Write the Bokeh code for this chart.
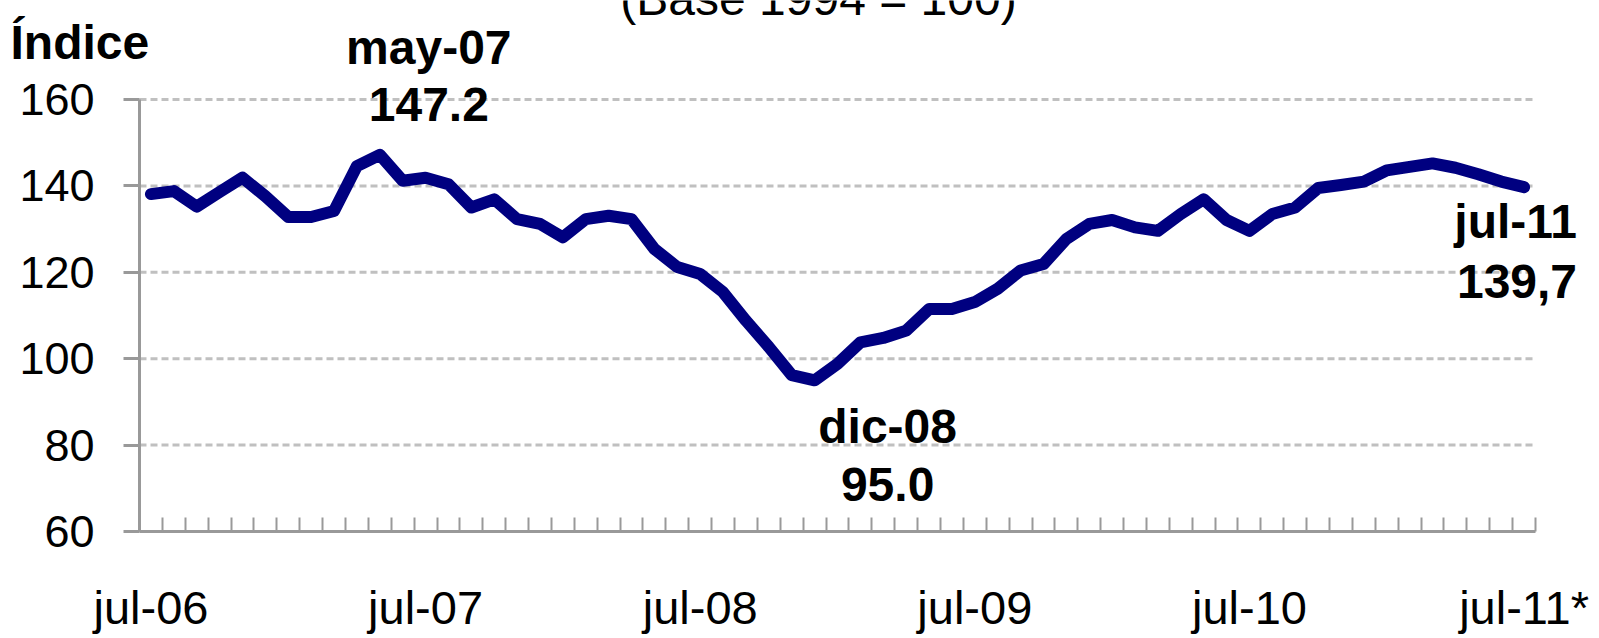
from bokeh.plotting import figure
from bokeh.models import Range1d, FixedTicker, Label
from bokeh.embed import file_html
from bokeh.resources import INLINE

# ---- data ----
month_abbr = ["ene", "feb", "mar", "abr", "may", "jun", "jul", "ago", "sep", "oct", "nov", "dic"]
months = [f"{month_abbr[(6 + i) % 12]}-{6 + (6 + i) // 12:02d}" for i in range(61)]  # jul-06 .. jul-11

values = [138.1, 138.8, 135.2, 138.6, 141.9, 137.6, 132.8, 132.8, 134.2, 144.6,
          147.2, 141.2, 141.9, 140.4, 135.0, 136.9, 132.3, 131.2, 128.1, 132.3,
          133.1, 132.3, 125.4, 121.2, 119.6, 115.4, 108.8, 102.7, 96.2, 95.0,
          98.8, 103.8, 104.8, 106.5, 111.5, 111.5, 113.1, 116.2, 120.4, 121.9,
          127.7, 131.2, 132.1, 130.4, 129.6, 133.5, 136.9, 132.1, 129.6, 133.5,
          135.0, 139.5, 140.2, 141.0, 143.6, 144.4, 145.2, 144.2, 142.7, 141.0, 139.7]

x_tick_labels = ["jul-06", "jul-07", "jul-08", "jul-09", "jul-10", "jul-11*"]
y_ticks = [60, 80, 100, 120, 140, 160]

annot_months = ["may-07", "dic-08", "jul-11"]
annot_texts = ["147.2", "95.0", "139,7"]

title_text = "(Base 1994 = 100)"
y_title = "Índice"

# ---- layout constants (pixels) ----
FONT = "Liberation Sans"
W, H = 1599, 638
AX_X = 139                        # y axis position
AX_Y = 531                        # x axis position
X0, X1 = -0.5, len(months) - 0.5  # category extent
Y0, Y1 = y_ticks[0], y_ticks[-1]
PX_X = 1396 / len(months)         # px per month
PX_Y = 432 / (Y1 - Y0)            # px per unit

# the frame covers the whole canvas so that no annotation is clipped;
# axes are pinned at the data edges with fixed_location
p = figure(width=W, height=H, output_backend="svg", toolbar_location=None,
           x_range=Range1d(X0 - AX_X / PX_X, X0 + (W - AX_X) / PX_X),
           y_range=Range1d(Y0 - (H - AX_Y) / PX_Y, Y0 + AX_Y / PX_Y),
           min_border_left=0, min_border_right=0, min_border_top=0, min_border_bottom=0)
p.outline_line_color = None
p.background_fill_color = "white"
p.border_fill_color = "white"
p.xgrid.grid_line_color = None
p.ygrid.grid_line_color = None

# dashed horizontal grid limited to the category extent
grid_vals = y_ticks[1:]
p.segment(x0=[X0] * len(grid_vals), x1=[X1] * len(grid_vals), y0=grid_vals, y1=grid_vals,
          line_color="#c0c0c0", line_width=3, line_dash="7 4", level="underlay")

x = list(range(len(months)))
p.line(x, values, line_color="#000080", line_width=12, line_cap="round", line_join="round")

# x axis
xt = [months.index(l.rstrip("*")) for l in x_tick_labels]
p.xaxis.fixed_location = Y0
p.xaxis.bounds = (X0, X1)
p.xaxis.ticker = FixedTicker(ticks=xt, minor_ticks=[i - 0.5 for i in range(len(months) + 1)])
p.xaxis.major_label_overrides = {t: l for t, l in zip(xt, x_tick_labels)}
p.xaxis.axis_line_color = "#999999"
p.xaxis.axis_line_width = 3
p.xaxis.major_tick_in = 0
p.xaxis.major_tick_out = 0
p.xaxis.minor_tick_in = 14
p.xaxis.minor_tick_out = 0
p.xaxis.minor_tick_line_color = "#999999"
p.xaxis.minor_tick_line_width = 2
p.xaxis.major_label_text_font = FONT
p.xaxis.major_label_text_font_size = "47px"
p.xaxis.major_label_text_color = "black"
p.xaxis.major_label_standoff = 49

# y axis
p.yaxis.fixed_location = X0
p.yaxis.bounds = (Y0, Y1)
p.yaxis.ticker = FixedTicker(ticks=y_ticks, minor_ticks=[])
p.yaxis.axis_line_color = "#999999"
p.yaxis.axis_line_width = 3
p.yaxis.major_tick_in = 0
p.yaxis.major_tick_out = 16
p.yaxis.major_tick_line_color = "#999999"
p.yaxis.major_tick_line_width = 3
p.yaxis.major_label_text_font = FONT
p.yaxis.major_label_text_font_size = "45px"
p.yaxis.major_label_text_color = "black"
p.yaxis.major_label_standoff = 29

# annotations (offsets in px from the annotated point)
offsets = [(49, 107, 50, "center"), (73, -46, -104, "center"), (53, -34, -94, "right")]
for m, t, (xo, yo1, yo2, al) in zip(annot_months, annot_texts, offsets):
    i = months.index(m)
    for txt, yo in ((m, yo1), (t, yo2)):
        p.add_layout(Label(x=i, y=values[i], x_offset=xo, y_offset=yo, text=txt,
                           text_font=FONT, text_font_size="48px", text_font_style="bold",
                           text_align=al, text_baseline="alphabetic", text_color="black"))

p.add_layout(Label(x=X0, y=Y1, x_offset=-129, y_offset=57, text=y_title,
                   text_font=FONT, text_font_size="48px", text_font_style="bold",
                   text_align="left", text_baseline="alphabetic", text_color="black"))
p.add_layout(Label(x=X0, y=Y1, x_offset=679, y_offset=101, text=title_text,
                   text_font=FONT, text_font_size="48px",
                   text_align="center", text_baseline="alphabetic", text_color="black"))

open("out.html", "w").write(file_html(p, INLINE))
